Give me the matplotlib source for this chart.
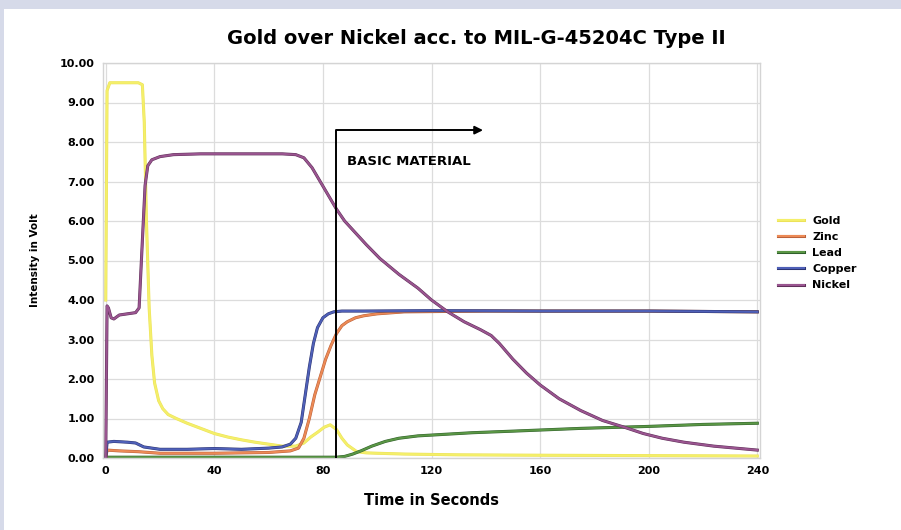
import matplotlib
matplotlib.use("Agg")
import matplotlib.pyplot as plt
import matplotlib.patheffects as pe
from matplotlib.patches import Rectangle

# --- data ---
gold_t = [0, 0.5, 1.5, 6, 12, 13.5, 14.2, 15, 16, 17, 18, 19.5, 21, 23, 26, 30, 35, 40, 45, 50,
          55, 60, 65, 70, 73, 75.5, 78, 80.5, 82.7, 85, 87, 89, 92.5, 96, 100, 110, 130, 160, 200, 240]
gold_v = [4.0, 9.3, 9.5, 9.5, 9.5, 9.45, 8.5, 6.0, 3.8, 2.6, 1.9, 1.45, 1.25, 1.1, 1.0, 0.88, 0.75, 0.62, 0.53, 0.46,
          0.4, 0.35, 0.3, 0.3, 0.38, 0.53, 0.65, 0.78, 0.84, 0.72, 0.5, 0.33, 0.16, 0.13, 0.12, 0.1, 0.08, 0.07, 0.06, 0.05]

zinc_t = [0, 0.5, 5, 12, 20, 40, 60, 68, 71, 73, 75, 77, 79, 81, 83, 85, 87, 89, 92, 95, 100, 110, 140, 200, 240]
zinc_v = [0.0, 0.2, 0.18, 0.16, 0.12, 0.12, 0.14, 0.18, 0.25, 0.5, 1.0, 1.6, 2.05, 2.5, 2.85, 3.15, 3.35, 3.45, 3.55, 3.6,
          3.65, 3.7, 3.72, 3.72, 3.7]

lead_t = [0, 85, 88, 91, 94, 98, 103, 108, 115, 125, 135, 150, 175, 200, 220, 240]
lead_v = [0.02, 0.02, 0.04, 0.1, 0.18, 0.3, 0.42, 0.5, 0.56, 0.6, 0.64, 0.68, 0.75, 0.8, 0.85, 0.88]

copper_t = [0, 0.5, 3, 8, 11, 14, 17, 20, 30, 40, 50, 60, 65, 68, 70, 72, 73.5, 75, 76.5, 78, 80, 82, 84, 87, 95,
            120, 160, 200, 240]
copper_v = [0.0, 0.4, 0.42, 0.4, 0.38, 0.28, 0.25, 0.22, 0.22, 0.24, 0.22, 0.25, 0.28, 0.35, 0.5, 0.9, 1.6, 2.3, 2.9,
            3.3, 3.55, 3.65, 3.7, 3.72, 3.72, 3.73, 3.72, 3.72, 3.7]

nickel_t = [0, 0.5, 1, 2, 3, 5, 8, 11, 12.3, 13.5, 14.5, 15.5, 17, 20, 25, 35, 50, 65, 70, 73, 76, 79, 82, 85, 88,
            92, 96, 101, 108, 115, 120, 126, 132, 138, 142, 145, 150, 155, 160, 167, 175, 183, 191, 198, 205, 213,
            224, 232, 240]
nickel_v = [0.0, 3.85, 3.8, 3.55, 3.52, 3.62, 3.65, 3.68, 3.8, 5.5, 6.9, 7.4, 7.55, 7.63, 7.68, 7.7, 7.7, 7.7, 7.68,
            7.6, 7.35, 7.0, 6.65, 6.3, 6.0, 5.7, 5.4, 5.05, 4.65, 4.3, 4.0, 3.7, 3.45, 3.25, 3.1, 2.9, 2.5, 2.15,
            1.85, 1.5, 1.2, 0.95, 0.78, 0.62, 0.5, 0.4, 0.3, 0.25, 0.2]

series = [
    ("Gold", gold_t, gold_v, "#f4ef6a", "#ece25a"),
    ("Zinc", zinc_t, zinc_v, "#ec8a56", "#b8603a"),
    ("Lead", lead_t, lead_v, "#5a9645", "#2f5e2a"),
    ("Copper", copper_t, copper_v, "#4f60b8", "#2c3470"),
    ("Nickel", nickel_t, nickel_v, "#9a5590", "#5e2f58"),
]
legend_order = ["Gold", "Zinc", "Lead", "Copper", "Nickel"]

xticks = [0, 40, 80, 120, 160, 200, 240]
yticks = [0, 1, 2, 3, 4, 5, 6, 7, 8, 9, 10]

fig = plt.figure(figsize=(9.01, 5.30), dpi=100)
fig.patch.set_facecolor("#d6dae9")
fig.add_artist(Rectangle((4 / 901, 0), 1, 1 - 9 / 530, transform=fig.transFigure,
                         facecolor="white", edgecolor="none", zorder=0))

ax = fig.add_axes([103 / 901, 1 - 458 / 530, (760 - 103) / 901, (458 - 63) / 530])
ax.set_facecolor("white")

lines = {}
draw_order = ["Gold", "Lead", "Zinc", "Copper", "Nickel"]
for name in draw_order:
    _, t, v, c, dc = next(s for s in series if s[0] == name)
    ln, = ax.plot(t, v, color=c, lw=1.5, label=name, solid_joinstyle="round",
                  path_effects=[pe.Stroke(linewidth=2.2, foreground=dc), pe.Normal()])
    lines[name] = ln

# basic material marker
ax.plot([85, 85, 138], [0, 8.3, 8.3], color="black", lw=1.4, zorder=5)
ax.annotate("", xy=[140, 8.3], xytext=[136, 8.3],
            arrowprops=dict(arrowstyle="-|>", color="black", lw=1.4, mutation_scale=12), zorder=5)
ax.text(89, 7.5, "BASIC MATERIAL", fontsize=9.5, fontweight="bold", va="center", ha="left", zorder=6)

ax.set_xlim(-1, 241)
ax.set_ylim(0, 10)
ax.set_xticks(xticks)
ax.set_yticks(yticks)
ax.set_yticklabels(["%.2f" % y for y in yticks])
ax.tick_params(length=0, labelsize=8, pad=6)
for lab in ax.get_xticklabels() + ax.get_yticklabels():
    lab.set_fontweight("bold")
ax.grid(True, color="#dcdcdc", lw=0.9)
ax.set_axisbelow(True)
for sp in ax.spines.values():
    sp.set_color("#d4d4d4")
    sp.set_linewidth(1.0)

ax.set_xlabel("Time in Seconds", fontsize=10.5, fontweight="bold", labelpad=12)
ax.set_ylabel("Intensity in Volt", fontsize=7.5, fontweight="bold", labelpad=14)

fig.text(476 / 901, 1 - 38 / 530, "Gold over Nickel acc. to MIL-G-45204C Type II",
         fontsize=14, fontweight="bold", ha="center", va="center")

leg = fig.legend([lines[n] for n in legend_order], legend_order, loc="upper left",
                 bbox_to_anchor=(768 / 901, 1 - 206 / 530), frameon=False,
                 handlelength=2.3, handletextpad=0.8, labelspacing=0.55, prop={"size": 8, "weight": "bold"})

fig.savefig("out.png", dpi=100)
